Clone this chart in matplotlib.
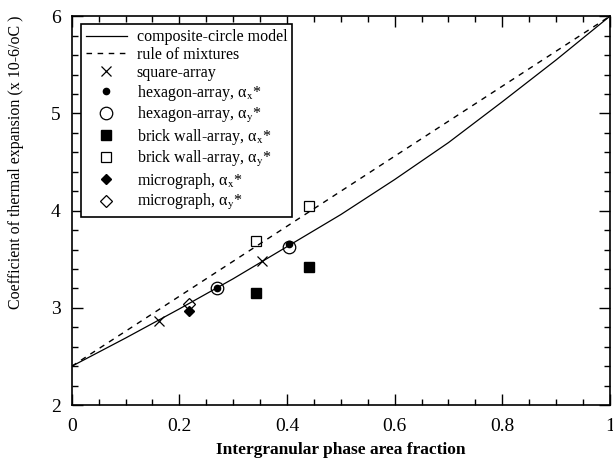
import matplotlib
matplotlib.use("Agg")
import matplotlib.pyplot as plt
from matplotlib.ticker import MultipleLocator

plt.rcParams["font.family"] = ["Liberation Serif", "DejaVu Serif"]
plt.rcParams["mathtext.fontset"] = "stix"

# composite-circle model
model_x = [0.0, 0.1, 0.2, 0.3, 0.4, 0.5, 0.6, 0.7, 0.8, 0.9, 1.0]
model_y = [2.40, 2.69, 2.99, 3.30, 3.63, 3.96, 4.32, 4.70, 5.12, 5.55, 6.00]

# rule of mixtures
mix_x = [0.0, 1.0]
mix_y = [2.40, 6.00]

# FE results
square_x = [0.162, 0.353]
square_y = [2.87, 3.48]
hex_ax_x = [0.269, 0.404]
hex_ax_y = [3.20, 3.66]
hex_ay_x = [0.269, 0.404]
hex_ay_y = [3.20, 3.63]
brick_ax_x = [0.342, 0.441]
brick_ax_y = [3.15, 3.42]
brick_ay_x = [0.342, 0.440]
brick_ay_y = [3.69, 4.05]
micro_ax_x = [0.218]
micro_ax_y = [2.97]
micro_ay_x = [0.218]
micro_ay_y = [3.04]

fig = plt.figure(figsize=(6.13, 4.62), dpi=100)
ax = fig.add_axes([0.117, 0.123, 0.878, 0.842])

ax.plot(model_x, model_y, "k-", lw=0.9, label="composite-circle model")
ax.plot(mix_x, mix_y, "k", ls=(0, (4, 4)), lw=1.0, label="rule of mixtures")
ax.plot(square_x, square_y, "kx", ms=7, mew=0.9, ls="none", label="square-array")
ax.plot(hex_ax_x, hex_ax_y, "ko", ms=4.5, ls="none", label="hexagon-array, α$_{\\rm x}$*")
ax.plot(hex_ay_x, hex_ay_y, "o", mfc="none", mec="k", ms=9, mew=0.9, ls="none",
        label="hexagon-array, α$_{\\rm y}$*")
ax.plot(brick_ax_x, brick_ax_y, "ks", ms=6.5, ls="none", label="brick wall-array, α$_{\\rm x}$*")
ax.plot(brick_ay_x, brick_ay_y, "s", mfc="none", mec="k", ms=7, mew=0.9, ls="none",
        label="brick wall-array, α$_{\\rm y}$*")
ax.plot(micro_ax_x, micro_ax_y, "kD", ms=5, ls="none", label="micrograph, α$_{\\rm x}$*")
ax.plot(micro_ay_x, micro_ay_y, "D", mfc="none", mec="k", ms=6.5, mew=0.9, ls="none",
        label="micrograph, α$_{\\rm y}$*")

ax.set_xlim(0, 1)
ax.set_ylim(2, 6)
ax.xaxis.set_major_locator(MultipleLocator(0.2))
ax.xaxis.set_minor_locator(MultipleLocator(0.05))
ax.yaxis.set_major_locator(MultipleLocator(1))
ax.yaxis.set_minor_locator(MultipleLocator(0.2))
ax.xaxis.set_major_formatter(plt.FuncFormatter(lambda v, p: f"{v:g}"))
ax.tick_params(which="both", direction="in", top=True, right=True, width=1.0, labelsize=14)
ax.tick_params(which="major", length=8)
ax.tick_params(axis="x", which="major", pad=9)
ax.tick_params(axis="y", which="major", pad=8)
ax.tick_params(which="minor", length=4)
for s in ax.spines.values():
    s.set_linewidth(1.2)

ax.set_xlabel("Intergranular phase area fraction", fontsize=12.5, fontweight="bold", labelpad=5)
ax.set_ylabel("Coefficient of thermal expansion (x 10-6/oC )", fontsize=11.5)
ax.yaxis.set_label_coords(-0.088, 0.625)

leg = ax.legend(loc="upper left", bbox_to_anchor=(0.017, 0.979), fontsize=11.5,
                frameon=True, fancybox=False, edgecolor="k", framealpha=1,
                handlelength=2.6, handletextpad=0.6, labelspacing=0.12,
                borderpad=0.3, borderaxespad=0)
leg.get_frame().set_linewidth(1.2)

fig.savefig("out.png", dpi=100)
